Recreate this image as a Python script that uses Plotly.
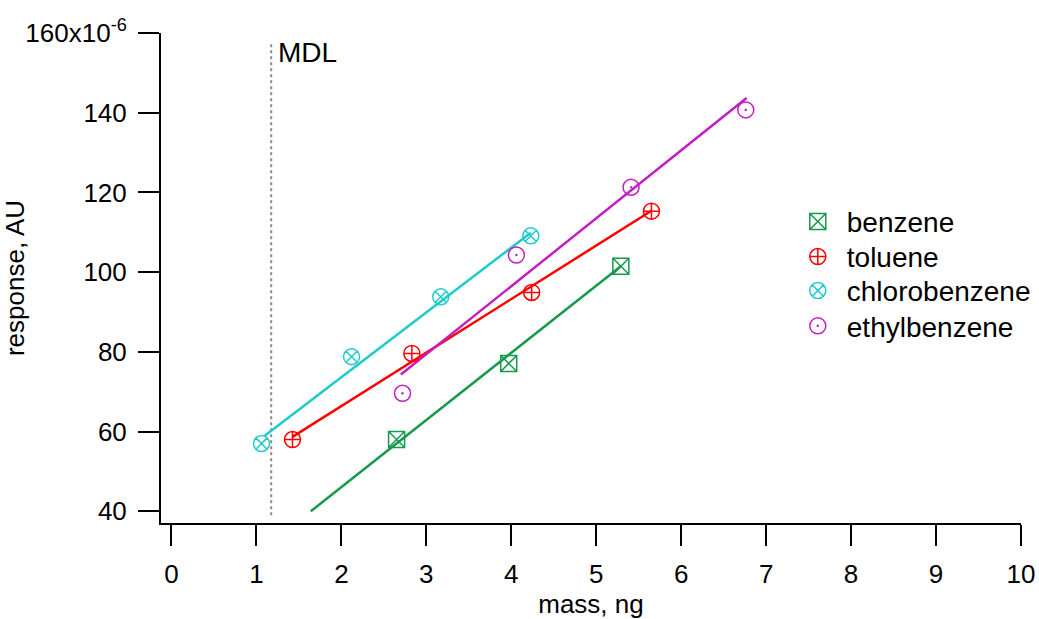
import plotly.graph_objects as go

# ---- data (response in units of 1e-6 AU) ----
benzene_x = [2.65, 3.97, 5.29]
benzene_y = [58.0, 77.1, 101.5]
toluene_x = [1.425, 2.83, 4.24, 5.65]
toluene_y = [58.0, 79.6, 94.9, 115.3]
chloro_x = [1.06, 2.12, 3.17, 4.23]
chloro_y = [57.0, 78.8, 93.8, 109.1]
ethyl_x = [2.72, 4.06, 5.41, 6.76]
ethyl_y = [69.6, 104.3, 121.3, 140.7]

# fit line endpoints
benzene_fit_x = [1.64, 5.29]
benzene_fit_y = [40.0, 101.5]
toluene_fit_x = [1.42, 5.65]
toluene_fit_y = [58.6, 115.4]
chloro_fit_x = [1.09, 4.23]
chloro_fit_y = [58.8, 109.9]
ethyl_fit_x = [2.70, 6.77]
ethyl_fit_y = [74.3, 143.7]

mdl_x = [1.174, 1.174]
mdl_y = [39.0, 157.8]

x_ticks = [0, 1, 2, 3, 4, 5, 6, 7, 8, 9, 10]
y_ticks = [40, 60, 80, 100, 120, 140, 160]
y_ticktext = ["40", "60", "80", "100", "120", "140", "160x10<sup>-6</sup>"]

GREEN = "#15994c"
RED = "#ff0000"
CYAN = "#1fcaca"
MAGENTA = "#c21ec2"
FS = 26
LEG_FS = 28

fig = go.Figure()

# MDL line
fig.add_trace(go.Scatter(x=mdl_x, y=mdl_y, mode="lines",
                         line=dict(color="#8c8c8c", width=2, dash="dot"),
                         showlegend=False, hoverinfo="skip"))

series = [
    ("benzene", benzene_x, benzene_y, benzene_fit_x, benzene_fit_y, GREEN, "square-x-open", "legend"),
    ("toluene", toluene_x, toluene_y, toluene_fit_x, toluene_fit_y, RED, "circle-cross-open", "legend2"),
    ("chlorobenzene", chloro_x, chloro_y, chloro_fit_x, chloro_fit_y, CYAN, "circle-x-open", "legend3"),
    ("ethylbenzene", ethyl_x, ethyl_y, ethyl_fit_x, ethyl_fit_y, MAGENTA, "circle-open-dot", "legend4"),
]

for name, x, y, fx, fy, col, sym, leg in series:
    fig.add_trace(go.Scatter(x=fx, y=fy, mode="lines",
                             line=dict(color=col, width=2.5),
                             showlegend=False, hoverinfo="skip"))

for name, x, y, fx, fy, col, sym, leg in series:
    fig.add_trace(go.Scatter(x=x, y=y, mode="markers", name=name,
                             legend=leg, showlegend=True,
                             marker=dict(symbol=sym, size=16, color=col,
                                         line=dict(color=col, width=1.5))))

fig.add_annotation(x=1.174, y=157.8, xref="x", yref="y", text="MDL",
                   showarrow=False, xanchor="left", yanchor="middle",
                   xshift=5, yshift=-11, font=dict(size=LEG_FS, color="black"))

axis_common = dict(showgrid=False, zeroline=False, showline=True,
                   linecolor="black", linewidth=2, ticks="outside",
                   ticklen=21, tickwidth=2, tickcolor="black",
                   tickfont=dict(size=FS, color="black"),
                   mirror=False, automargin=False)

fig.update_xaxes(range=[-0.123, 10], tickvals=x_ticks,
                 title=dict(text="mass, ng", font=dict(size=FS, color="black"), standoff=2),
                 ticklabelstandoff=6, **axis_common)
fig.update_yaxes(range=[37.06, 160], tickvals=y_ticks, ticktext=y_ticktext,
                 title=dict(text="response, AU", font=dict(size=FS, color="black"), standoff=4),
                 ticklabelstandoff=6, **axis_common)

leg_common = dict(x=0.730, xanchor="left", yanchor="middle",
                  font=dict(size=LEG_FS, color="black"), itemwidth=48,
                  bgcolor="rgba(0,0,0,0)")

fig.update_layout(
    width=1039, height=619,
    margin=dict(l=161, r=18, t=33, b=96, autoexpand=False),
    plot_bgcolor="white", paper_bgcolor="white",
    font=dict(family="Liberation Sans, Arial, sans-serif", size=FS, color="black"),
    legend=dict(y=0.6147, **leg_common),
    legend2=dict(y=0.5432, **leg_common),
    legend3=dict(y=0.4738, **leg_common),
    legend4=dict(y=0.4017, **leg_common),
)

# remove the default page margin so the figure sits at the window's corner
fig.write_html("out.html", config={"displayModeBar": False},
               post_script="document.body.style.margin='0';document.body.style.overflow='hidden';")
